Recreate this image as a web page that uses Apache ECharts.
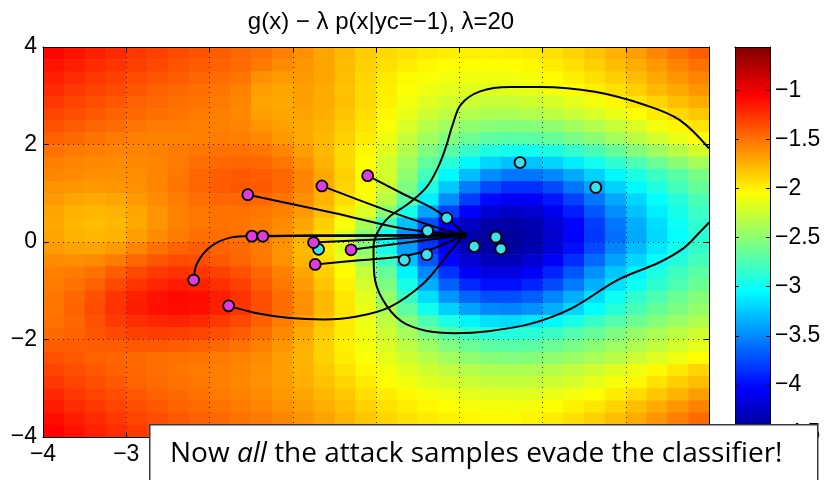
<!DOCTYPE html>
<html><head><meta charset="utf-8">
<script src="https://cdn.jsdelivr.net/npm/echarts@6/dist/echarts.min.js"></script>
<style>html,body{margin:0;padding:0;background:#fff}#c{width:825px;height:480px}</style>
</head><body><div id="c"></div>
<script>
// ---- data ----
const titleText = 'g(x) \u2212 \u03bb p(x|yc=\u22121), \u03bb=20';
const noteBefore = 'Now ';
const noteItalic = 'all';
const noteAfter = ' the attack samples evade the classifier!';

// grid of field values (cell centres, step 0.25)
const xCenters = [-3.875,-3.625,-3.375,-3.125,-2.875,-2.625,-2.375,-2.125,-1.875,-1.625,-1.375,-1.125,-0.875,-0.625,-0.375,-0.125,0.125,0.375,0.625,0.875,1.125,1.375,1.625,1.875,2.125,2.375,2.625,2.875,3.125,3.375,3.625,3.875];
const yCenters = [3.875,3.625,3.375,3.125,2.875,2.625,2.375,2.125,1.875,1.625,1.375,1.125,0.875,0.625,0.375,0.125,-0.125,-0.375,-0.625,-0.875,-1.125,-1.375,-1.625,-1.875,-2.125,-2.375,-2.625,-2.875,-3.125,-3.375,-3.625,-3.875];
const fieldValues = [
 [-1.08,-1.13,-1.18,-1.22,-1.27,-1.31,-1.35,-1.38,-1.42,-1.46,-1.50,-1.55,-1.62,-1.70,-1.78,-1.85,-1.90,-1.94,-1.97,-1.99,-2.00,-2.00,-1.99,-1.97,-1.93,-1.88,-1.82,-1.75,-1.67,-1.58,-1.50,-1.42],
 [-1.13,-1.17,-1.22,-1.26,-1.30,-1.34,-1.38,-1.41,-1.44,-1.47,-1.53,-1.60,-1.64,-1.70,-1.79,-1.87,-1.93,-1.98,-2.02,-2.04,-2.05,-2.05,-2.04,-2.02,-1.98,-1.93,-1.87,-1.80,-1.73,-1.65,-1.57,-1.50],
 [-1.18,-1.22,-1.27,-1.31,-1.35,-1.39,-1.42,-1.45,-1.48,-1.52,-1.62,-1.66,-1.65,-1.70,-1.80,-1.89,-1.97,-2.03,-2.07,-2.10,-2.11,-2.11,-2.10,-2.08,-2.04,-1.99,-1.93,-1.86,-1.79,-1.71,-1.64,-1.57],
 [-1.22,-1.27,-1.31,-1.35,-1.39,-1.43,-1.46,-1.49,-1.51,-1.56,-1.67,-1.70,-1.68,-1.72,-1.81,-1.90,-1.99,-2.06,-2.11,-2.15,-2.17,-2.17,-2.16,-2.14,-2.10,-2.05,-1.99,-1.93,-1.86,-1.78,-1.71,-1.64],
 [-1.27,-1.32,-1.36,-1.40,-1.43,-1.46,-1.49,-1.51,-1.53,-1.58,-1.69,-1.71,-1.68,-1.72,-1.80,-1.90,-2.00,-2.10,-2.17,-2.22,-2.25,-2.26,-2.26,-2.24,-2.20,-2.15,-2.09,-2.02,-1.95,-1.88,-1.80,-1.73],
 [-1.32,-1.36,-1.40,-1.44,-1.47,-1.49,-1.51,-1.53,-1.55,-1.59,-1.68,-1.70,-1.69,-1.73,-1.82,-1.92,-2.02,-2.14,-2.24,-2.31,-2.35,-2.37,-2.37,-2.35,-2.31,-2.26,-2.20,-2.13,-2.05,-1.98,-1.90,-1.83],
 [-1.37,-1.41,-1.45,-1.48,-1.51,-1.53,-1.54,-1.55,-1.55,-1.57,-1.63,-1.68,-1.71,-1.76,-1.85,-1.95,-2.06,-2.20,-2.33,-2.42,-2.48,-2.52,-2.53,-2.52,-2.48,-2.42,-2.35,-2.27,-2.19,-2.10,-2.02,-1.95],
 [-1.43,-1.47,-1.50,-1.53,-1.55,-1.56,-1.56,-1.55,-1.54,-1.55,-1.59,-1.65,-1.71,-1.78,-1.87,-1.98,-2.11,-2.27,-2.42,-2.54,-2.62,-2.68,-2.70,-2.69,-2.65,-2.58,-2.50,-2.41,-2.32,-2.22,-2.13,-2.05],
 [-1.50,-1.53,-1.55,-1.57,-1.57,-1.56,-1.54,-1.52,-1.50,-1.50,-1.52,-1.58,-1.67,-1.78,-1.90,-2.02,-2.17,-2.35,-2.54,-2.70,-2.83,-2.93,-2.98,-2.98,-2.93,-2.85,-2.75,-2.64,-2.53,-2.42,-2.32,-2.22],
 [-1.55,-1.57,-1.59,-1.60,-1.59,-1.57,-1.53,-1.49,-1.46,-1.45,-1.46,-1.52,-1.62,-1.75,-1.90,-2.05,-2.22,-2.43,-2.66,-2.88,-3.07,-3.20,-3.27,-3.27,-3.20,-3.10,-2.98,-2.86,-2.74,-2.62,-2.50,-2.40],
 [-1.58,-1.60,-1.62,-1.62,-1.61,-1.57,-1.52,-1.46,-1.42,-1.40,-1.41,-1.46,-1.57,-1.71,-1.87,-2.03,-2.22,-2.48,-2.78,-3.06,-3.30,-3.48,-3.57,-3.58,-3.50,-3.37,-3.22,-3.07,-2.94,-2.81,-2.69,-2.57],
 [-1.62,-1.64,-1.65,-1.64,-1.62,-1.57,-1.51,-1.45,-1.41,-1.39,-1.40,-1.46,-1.57,-1.72,-1.88,-2.04,-2.25,-2.55,-2.92,-3.25,-3.55,-3.75,-3.85,-3.85,-3.75,-3.58,-3.40,-3.22,-3.06,-2.92,-2.78,-2.65],
 [-1.66,-1.70,-1.72,-1.70,-1.66,-1.60,-1.54,-1.49,-1.46,-1.45,-1.46,-1.51,-1.61,-1.76,-1.92,-2.08,-2.32,-2.68,-3.10,-3.48,-3.80,-4.00,-4.08,-4.06,-3.95,-3.78,-3.58,-3.38,-3.20,-3.04,-2.89,-2.75],
 [-1.70,-1.75,-1.77,-1.75,-1.70,-1.63,-1.56,-1.52,-1.50,-1.50,-1.52,-1.56,-1.65,-1.80,-1.98,-2.18,-2.50,-2.95,-3.40,-3.78,-4.05,-4.20,-4.25,-4.22,-4.10,-3.92,-3.70,-3.48,-3.28,-3.10,-2.95,-2.81],
 [-1.71,-1.77,-1.79,-1.77,-1.71,-1.63,-1.56,-1.52,-1.50,-1.51,-1.54,-1.60,-1.70,-1.86,-2.08,-2.38,-2.80,-3.28,-3.72,-4.05,-4.27,-4.36,-4.38,-4.33,-4.20,-4.02,-3.80,-3.58,-3.36,-3.17,-3.00,-2.86],
 [-1.70,-1.75,-1.77,-1.75,-1.68,-1.60,-1.53,-1.49,-1.48,-1.50,-1.54,-1.62,-1.74,-1.92,-2.18,-2.52,-2.98,-3.45,-3.85,-4.15,-4.35,-4.42,-4.42,-4.36,-4.22,-4.04,-3.82,-3.60,-3.38,-3.19,-3.02,-2.88],
 [-1.66,-1.69,-1.70,-1.66,-1.58,-1.50,-1.44,-1.42,-1.44,-1.47,-1.53,-1.63,-1.78,-1.96,-2.18,-2.50,-2.95,-3.42,-3.82,-4.12,-4.32,-4.40,-4.40,-4.33,-4.18,-3.98,-3.75,-3.52,-3.31,-3.13,-2.97,-2.84],
 [-1.60,-1.61,-1.60,-1.54,-1.46,-1.39,-1.35,-1.36,-1.40,-1.45,-1.52,-1.62,-1.76,-1.93,-2.12,-2.40,-2.80,-3.28,-3.70,-4.02,-4.22,-4.30,-4.30,-4.22,-4.06,-3.86,-3.62,-3.40,-3.20,-3.04,-2.90,-2.78],
 [-1.56,-1.54,-1.50,-1.42,-1.34,-1.28,-1.25,-1.27,-1.31,-1.37,-1.45,-1.56,-1.70,-1.86,-2.04,-2.28,-2.64,-3.08,-3.50,-3.84,-4.06,-4.15,-4.15,-4.06,-3.90,-3.70,-3.47,-3.26,-3.08,-2.93,-2.80,-2.69],
 [-1.54,-1.50,-1.43,-1.34,-1.26,-1.20,-1.17,-1.19,-1.24,-1.31,-1.41,-1.52,-1.66,-1.82,-2.00,-2.22,-2.55,-2.95,-3.35,-3.66,-3.88,-3.98,-3.98,-3.90,-3.75,-3.56,-3.35,-3.16,-3.00,-2.86,-2.74,-2.63],
 [-1.52,-1.46,-1.37,-1.26,-1.18,-1.12,-1.09,-1.11,-1.17,-1.25,-1.36,-1.48,-1.62,-1.78,-1.96,-2.16,-2.46,-2.82,-3.17,-3.45,-3.64,-3.73,-3.73,-3.66,-3.52,-3.35,-3.17,-3.00,-2.86,-2.74,-2.63,-2.53],
 [-1.51,-1.44,-1.35,-1.25,-1.17,-1.12,-1.10,-1.12,-1.18,-1.26,-1.36,-1.48,-1.62,-1.78,-1.95,-2.13,-2.38,-2.68,-2.98,-3.22,-3.40,-3.50,-3.52,-3.46,-3.35,-3.20,-3.04,-2.89,-2.76,-2.65,-2.55,-2.46],
 [-1.50,-1.45,-1.37,-1.29,-1.23,-1.20,-1.19,-1.22,-1.27,-1.34,-1.43,-1.54,-1.67,-1.82,-1.97,-2.12,-2.30,-2.52,-2.75,-2.94,-3.08,-3.16,-3.18,-3.14,-3.06,-2.95,-2.83,-2.72,-2.62,-2.52,-2.44,-2.36],
 [-1.47,-1.44,-1.39,-1.34,-1.31,-1.29,-1.30,-1.32,-1.36,-1.42,-1.49,-1.59,-1.71,-1.85,-1.98,-2.10,-2.24,-2.40,-2.56,-2.71,-2.82,-2.89,-2.91,-2.88,-2.82,-2.73,-2.64,-2.55,-2.46,-2.38,-2.31,-2.24],
 [-1.42,-1.42,-1.42,-1.41,-1.40,-1.40,-1.41,-1.43,-1.46,-1.50,-1.56,-1.64,-1.74,-1.87,-1.99,-2.09,-2.19,-2.31,-2.43,-2.54,-2.63,-2.68,-2.70,-2.68,-2.63,-2.57,-2.50,-2.43,-2.36,-2.29,-2.22,-2.15],
 [-1.37,-1.40,-1.43,-1.45,-1.47,-1.49,-1.50,-1.51,-1.53,-1.56,-1.60,-1.67,-1.76,-1.87,-1.98,-2.07,-2.15,-2.24,-2.33,-2.41,-2.48,-2.52,-2.54,-2.53,-2.49,-2.44,-2.38,-2.32,-2.25,-2.18,-2.11,-2.04],
 [-1.32,-1.36,-1.40,-1.43,-1.46,-1.49,-1.51,-1.53,-1.55,-1.58,-1.62,-1.68,-1.75,-1.84,-1.94,-2.02,-2.09,-2.16,-2.23,-2.29,-2.34,-2.37,-2.38,-2.37,-2.34,-2.29,-2.24,-2.18,-2.11,-2.03,-1.96,-1.89],
 [-1.27,-1.32,-1.36,-1.40,-1.44,-1.47,-1.50,-1.52,-1.55,-1.58,-1.62,-1.67,-1.73,-1.81,-1.89,-1.97,-2.04,-2.10,-2.16,-2.21,-2.25,-2.27,-2.28,-2.27,-2.24,-2.20,-2.15,-2.09,-2.02,-1.94,-1.86,-1.79],
 [-1.21,-1.27,-1.32,-1.36,-1.40,-1.44,-1.47,-1.50,-1.53,-1.56,-1.60,-1.65,-1.70,-1.77,-1.84,-1.92,-1.98,-2.03,-2.08,-2.12,-2.15,-2.17,-2.17,-2.16,-2.13,-2.09,-2.04,-1.98,-1.91,-1.83,-1.75,-1.67],
 [-1.16,-1.22,-1.27,-1.32,-1.36,-1.40,-1.44,-1.47,-1.50,-1.53,-1.57,-1.62,-1.67,-1.73,-1.80,-1.87,-1.93,-1.98,-2.02,-2.05,-2.08,-2.09,-2.09,-2.08,-2.05,-2.00,-1.95,-1.88,-1.80,-1.72,-1.64,-1.56],
 [-1.11,-1.17,-1.22,-1.27,-1.32,-1.36,-1.40,-1.43,-1.46,-1.50,-1.53,-1.58,-1.63,-1.69,-1.76,-1.83,-1.89,-1.93,-1.97,-2.00,-2.02,-2.03,-2.03,-2.01,-1.98,-1.93,-1.87,-1.80,-1.72,-1.63,-1.55,-1.47],
 [-1.06,-1.12,-1.18,-1.23,-1.28,-1.32,-1.36,-1.40,-1.43,-1.47,-1.50,-1.55,-1.60,-1.66,-1.73,-1.80,-1.85,-1.90,-1.93,-1.96,-1.98,-1.99,-1.98,-1.96,-1.92,-1.87,-1.81,-1.74,-1.66,-1.57,-1.49,-1.41]
];
const colorMin = -4.53;
const colorMax = -0.56;
const colorbarTicks = [-4.5,-4,-3.5,-3,-2.5,-2,-1.5,-1];

// decision boundary g(x)=0
const boundary = [[4.0,1.92],[3.65,2.50],[3.25,2.80],[2.63,3.08],[1.97,3.18],[1.61,3.18],[1.25,3.09],[1.02,2.82],[0.92,2.40],[0.84,1.95],[0.75,1.55],[0.61,1.13],[0.40,0.80],[0.15,0.50],[0.02,0.20],[-0.03,-0.10],[-0.02,-0.68],[0.08,-1.18],[0.30,-1.62],[0.60,-1.82],[0.95,-1.87],[1.35,-1.83],[1.85,-1.68],[2.35,-1.36],[2.90,-0.78],[3.40,-0.42],[3.70,-0.12],[3.90,0.22],[4.0,0.40]];

// attack paths (start -> final point)
const attackPaths = [
 [[-1.54,0.97],[-0.49,0.59],[0.31,0.28],[1.05,0.14]],
 [[-0.65,1.15],[0.11,0.66],[0.71,0.31],[1.05,0.14]],
 [[-0.10,1.36],[0.31,1.00],[0.71,0.66],[0.95,0.35],[1.05,0.14]],
 [[-1.49,0.12],[-0.30,0.13],[1.05,0.14]],
 [[-1.36,0.12],[-0.20,0.13],[1.05,0.14]],
 [[-0.75,-0.01],[1.05,0.14]],
 [[-0.30,-0.16],[1.05,0.14]],
 [[-0.73,-0.46],[-0.23,-0.38],[0.33,-0.29],[0.65,-0.16],[1.05,0.14]],
 [[-2.19,-0.78],[-2.15,-0.44],[-1.99,-0.10],[-1.75,0.09],[-1.49,0.125],[-0.40,0.135],[1.05,0.14]],
 [[-1.77,-1.31],[-1.43,-1.46],[-1.03,-1.56],[-0.63,-1.59],[-0.23,-1.53],[0.17,-1.33],[0.57,-0.85],[0.81,-0.37],[1.05,0.14]]
];
const attackStarts = [[-1.54,0.97],[-0.65,1.15],[-0.10,1.36],[-1.49,0.12],[-1.36,0.12],[-0.75,-0.01],[-0.30,-0.16],[-0.73,-0.46],[-2.19,-0.78],[-1.77,-1.31]];
const legitPoints = [[1.73,1.63],[2.64,1.12],[0.85,0.49],[0.62,0.23],[-0.69,-0.15],[1.18,-0.09],[1.44,0.10],[1.50,-0.14],[0.34,-0.37],[0.61,-0.26]];
const attackTarget = [[1.05,0.14]];

// ---- styling helpers ----
function jet(v){
  let t=(v-colorMin)/(colorMax-colorMin); t=Math.max(0,Math.min(1,t));
  const c=x=>Math.round(255*Math.max(0,Math.min(1,x)));
  return 'rgb('+c(1.5-Math.abs(4*t-3))+','+c(1.5-Math.abs(4*t-2))+','+c(1.5-Math.abs(4*t-1))+')';
}
const minus = v => (v<0 ? '\u2212'+String(Math.abs(v)) : String(v));
const fieldData = [];
yCenters.forEach((y,i)=>xCenters.forEach((x,j)=>fieldData.push([x,y,fieldValues[i][j]])));
const half = 0.125;

const font = 'Liberation Sans';
const chart = echarts.init(document.getElementById('c'), null, {renderer:'canvas'});
const axisLineStyle = {show:true, onZero:false, lineStyle:{color:'#000', width:1}};
const dotted = {show:true, lineStyle:{color:'#000', width:1, type:[1,4], opacity:0.75}};
chart.setOption({
  animation:false,
  backgroundColor:'#fff',
  title:{text:titleText, left:376, top:5, textAlign:'center',
         textStyle:{fontFamily:font, fontSize:24, fontWeight:'normal', color:'#000'}},
  grid:[{left:43, top:47, width:666, height:390},
        {left:735, top:47, width:35, height:390}],
  xAxis:[
    {gridIndex:0, type:'value', min:-4, max:4, interval:1, position:'bottom', z:3,
     axisLine:axisLineStyle, axisTick:{inside:true, length:5, lineStyle:{color:'#000'}},
     axisLabel:{fontFamily:font, fontSize:23, color:'#000', margin:6, formatter:minus, showMinLabel:true, showMaxLabel:true},
     splitLine:dotted},
    {gridIndex:0, type:'value', min:-4, max:4, interval:1, position:'top', z:3,
     axisLine:axisLineStyle, axisTick:{inside:true, length:5, lineStyle:{color:'#000'}},
     axisLabel:{show:false}, splitLine:{show:false}},
    {gridIndex:1, type:'value', min:0, max:1, position:'bottom', z:3,
     axisLine:axisLineStyle, axisTick:{show:false}, axisLabel:{show:false}, splitLine:{show:false}},
    {gridIndex:1, type:'value', min:0, max:1, position:'top', z:3,
     axisLine:axisLineStyle, axisTick:{show:false}, axisLabel:{show:false}, splitLine:{show:false}}
  ],
  yAxis:[
    {gridIndex:0, type:'value', min:-4, max:4, interval:2, position:'left', z:3,
     axisLine:axisLineStyle, axisTick:{inside:true, length:5, lineStyle:{color:'#000'}},
     axisLabel:{fontFamily:font, fontSize:23, color:'#000', margin:6, formatter:minus, showMinLabel:true, showMaxLabel:true},
     splitLine:dotted},
    {gridIndex:0, type:'value', min:-4, max:4, interval:2, position:'right', z:3,
     axisLine:axisLineStyle, axisTick:{inside:true, length:5, lineStyle:{color:'#000'}},
     axisLabel:{show:false}, splitLine:{show:false}},
    {gridIndex:1, type:'value', min:colorMin, max:colorMax, position:'left', z:3,
     axisLine:axisLineStyle, axisTick:{inside:true, length:4, customValues:colorbarTicks, lineStyle:{color:'#000'}},
     axisLabel:{show:false}, splitLine:{show:false}},
    {gridIndex:1, type:'value', min:colorMin, max:colorMax, position:'right', z:3,
     axisLine:axisLineStyle, axisTick:{inside:true, length:4, customValues:colorbarTicks, lineStyle:{color:'#000'}},
     axisLabel:{fontFamily:font, fontSize:23, color:'#000', margin:5, formatter:minus, customValues:colorbarTicks},
     splitLine:{show:false}}
  ],
  series:[
    {type:'custom', name:'field', xAxisIndex:0, yAxisIndex:0, data:fieldData, clip:true, z:1, silent:true,
     renderItem:(params, api)=>{
       const x=api.value(0), y=api.value(1), v=api.value(2);
       const p0=api.coord([x-half, y+half]), p1=api.coord([x+half, y-half]);
       return {type:'rect', shape:{x:p0[0], y:p0[1], width:p1[0]-p0[0]+0.6, height:p1[1]-p0[1]+0.6}, style:{fill:jet(v)}};
     }},
    {type:'custom', name:'colorbar', xAxisIndex:2, yAxisIndex:2, data:[[0,colorMin,1,colorMax]], z:1, silent:true,
     renderItem:(params, api)=>{
       const p0=api.coord([api.value(0), api.value(3)]), p1=api.coord([api.value(2), api.value(1)]);
       const stops=[0,0.125,0.25,0.375,0.5,0.625,0.75,0.875,1].map(t=>({offset:t, color:jet(colorMin+t*(colorMax-colorMin))}));
       return {type:'rect', shape:{x:p0[0], y:p0[1], width:p1[0]-p0[0], height:p1[1]-p0[1]},
               style:{fill:new echarts.graphic.LinearGradient(0,1,0,0,stops)}};
     }},
    {type:'line', name:'boundary', xAxisIndex:0, yAxisIndex:0, data:boundary, smooth:0.35, symbol:'none', z:4,
     lineStyle:{color:'#000', width:2}},
    ...attackPaths.map((p,i)=>({type:'line', name:'path'+i, xAxisIndex:0, yAxisIndex:0, data:p, smooth:0.35, symbol:'none', z:5,
     lineStyle:{color:'#000', width:2}})),
    {type:'scatter', name:'legit', xAxisIndex:0, yAxisIndex:0, data:legitPoints, symbolSize:11, z:6,
     itemStyle:{color:'#3fe2ea', borderColor:'#000', borderWidth:1.8, opacity:1}},
    {type:'scatter', name:'attack', xAxisIndex:0, yAxisIndex:0, data:attackStarts, symbolSize:11, z:7,
     itemStyle:{color:'#dd3ddd', borderColor:'#000', borderWidth:1.8, opacity:1}},
    {type:'scatter', name:'target', xAxisIndex:0, yAxisIndex:0, data:attackTarget, symbolSize:7, z:8,
     itemStyle:{color:'#000', opacity:1}}
  ],
  graphic:[
    {type:'rect', left:149, top:424, z:100, shape:{width:668, height:80},
     style:{fill:'#fff', stroke:'#3a3a3a', lineWidth:1.5}},
    {type:'text', left:170, top:440, z:101,
     style:{text:'{n|'+noteBefore+'}{i|'+noteItalic+'}{n|'+noteAfter+'}',
       rich:{n:{fontFamily:'Open Sans', fontSize:28, fill:'#000'}, i:{fontFamily:'Open Sans', fontSize:28, fontStyle:'italic', fill:'#000'}}}}
  ]
});
</script></body></html>
